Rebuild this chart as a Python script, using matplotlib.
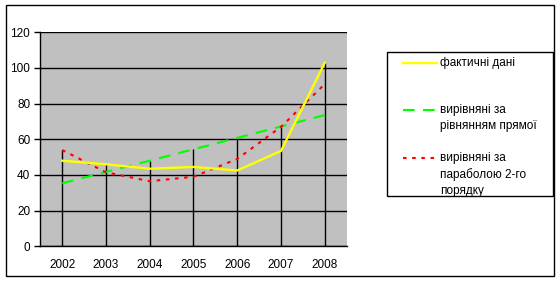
import matplotlib
matplotlib.use("Agg")
import matplotlib.pyplot as plt
from matplotlib.patches import Rectangle
from matplotlib.lines import Line2D

plt.rcParams["font.family"] = ["Liberation Sans", "DejaVu Sans"]
plt.rcParams["font.size"] = 8.5

years = ["2002", "2003", "2004", "2005", "2006", "2007", "2008"]
actual = [48.0, 46.0, 43.5, 44.5, 42.5, 53.5, 103.0]
linear = [35.3, 41.7, 48.0, 54.4, 60.8, 67.2, 73.6]
parabola = [54.0, 41.5, 36.5, 39.0, 49.0, 67.0, 91.0]
labels = ["фактичні дані", "вирівняні за\nрівнянням прямої",
          "вирівняні за\nпараболою 2-го\nпорядку"]

W, H = 560, 281
fig = plt.figure(figsize=(W / 100, H / 100), dpi=100)
ax = fig.add_axes([40.3 / W, 1 - 246.3 / H, 306.4 / W, 214 / H])
ax.set_facecolor("#C0C0C0")

x = list(range(len(years)))

# drop lines from axis to the highest point of each year
tops = [max(a, b, c) for a, b, c in zip(actual, linear, parabola)]
ax.vlines(x, 0, tops, color="black", lw=1, zorder=2)

green_dash = (5.6, 4)
red_dash = (1.7, 2.7)
ax.plot(x, actual, color="#FFFF00", lw=1.7, zorder=4)
ax.plot(x, linear, color="#00FF00", lw=1.5, dashes=green_dash, zorder=3)
ax.plot(x, parabola, color="#FF0000", lw=1.5, dashes=red_dash, zorder=3)

ax.set_xlim(-0.5, len(years) - 0.5)
ax.set_ylim(0, 120)
ax.set_yticks(range(0, 121, 20))
ax.set_xticks(x)
ax.set_xticklabels(years)
ax.yaxis.grid(True, color="black", lw=1)
ax.set_axisbelow(True)
ax.tick_params(axis="y", length=4.3, width=1, pad=3)
ax.tick_params(axis="x", length=0, pad=9.5)
for s in ["top", "right"]:
    ax.spines[s].set_visible(False)
for s in ["left", "bottom"]:
    ax.spines[s].set_linewidth(1)

# outer chart border
fig.add_artist(Rectangle((5.5 / W, 1 - 276 / H), 548.5 / W, 271.5 / H,
                         transform=fig.transFigure, fill=False,
                         edgecolor="black", lw=1))

# legend box, drawn the way the spreadsheet lays it out
fig.add_artist(Rectangle((386.5 / W, 1 - 196 / H), 166 / W, 144 / H,
                         transform=fig.transFigure, fill=False,
                         edgecolor="black", lw=1))
handle_styles = [
    dict(color="#FFFF00", lw=1.7),
    dict(color="#00FF00", lw=1.5, dashes=green_dash),
    dict(color="#FF0000", lw=1.5, dashes=red_dash),
]
text_tops = [57, 104, 152]
for lab, st, ty in zip(labels, handle_styles, text_tops):
    hy = 1 - (ty + 6) / H
    fig.add_artist(Line2D([403 / W, 437 / W], [hy, hy],
                          transform=fig.transFigure, **st))
    fig.text(440 / W, 1 - ty / H, lab, va="top", ha="left",
             linespacing=1.45)

fig.savefig("out.png", dpi=100)
